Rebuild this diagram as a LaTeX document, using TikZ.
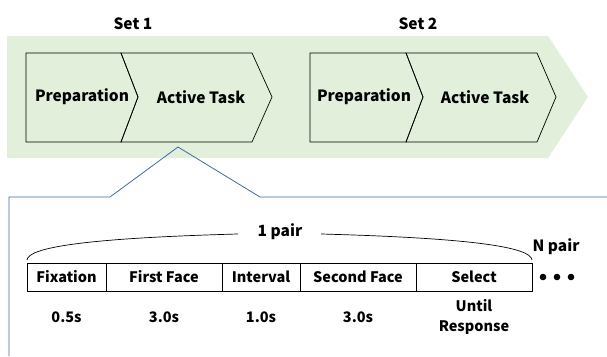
\documentclass[tikz,border=0pt]{standalone}
\usepackage{fontspec}
\setmainfont{Noto Sans CJK JP}
\definecolor{bandgreen}{HTML}{E2EFDA}
\definecolor{linkblue}{HTML}{3F67B0}
\begin{document}
\begin{tikzpicture}[x=1pt,y=-1pt,
  lbl/.style={font=\bfseries\fontsize{15.5}{17}\selectfont, inner sep=0pt},
  small/.style={font=\bfseries\fontsize{14.5}{16}\selectfont, inner sep=0pt, align=center},
  chev/.style={draw=black, line width=0.7pt, line join=miter},
  cell/.style={draw=black, line width=0.7pt},
  link/.style={draw=linkblue, line width=0.8pt}]
\useasboundingbox (0,0) rectangle (607,356);
% green band arrow
\fill[bandgreen] (7,36) -- (548,36) -- (588,97) -- (548,158) -- (7,158) -- cycle;
% Set 1
\draw[chev] (26,53) -- (121,53) -- (138,97) -- (121,142) -- (26,142) -- cycle;
\draw[chev] (121,53) -- (252,53) -- (272,97) -- (252,142) -- (121,142) -- (138,97) -- cycle;
\node[lbl] (s1) at (133,24) {Set 1};
\node[lbl] (p1) at (82,97) {Preparation};
\node[lbl] (a1) at (201,97) {Active Task};
% Set 2
\draw[chev] (310,53) -- (406,53) -- (423,97) -- (406,142) -- (310,142) -- cycle;
\draw[chev] (406,53) -- (537,53) -- (556,97) -- (537,142) -- (406,142) -- (423,97) -- cycle;
\node[lbl] (s2) at (418,24) {Set 2};
\node[lbl] (p2) at (364,97) {Preparation};
\node[lbl] (a2) at (485,97) {Active Task};
% zoom callout
\coordinate (apex) at (178,147);
\coordinate (bl) at (9,356);
\coordinate (tl) at (9,197);
\coordinate (ml) at (110,197);
\coordinate (mr) at (260,197);
\coordinate (tr) at (607,197);
\draw[link] (bl) -- (tl) -- (ml) -- (apex) -- (mr) -- (tr);
% timeline cells
\draw[cell] (27,263) rectangle (532,291);
\draw[cell] (106,263) -- (106,291);
\draw[cell] (222,263) -- (222,291);
\draw[cell] (300,263) -- (300,291);
\draw[cell] (416,263) -- (416,291);
\node[small] (c1) at (66.5,277) {Fixation};
\node[small] (c2) at (164,277) {First Face};
\node[small] (c3) at (261,277) {Interval};
\node[small] (c4) at (358,277) {Second Face};
\node[small] (c5) at (474,277) {Select};
\node[small] (t1) at (66.5,317) {0.5s};
\node[small] (t2) at (164,317) {3.0s};
\node[small] (t3) at (261,317) {1.0s};
\node[small] (t4) at (358,317) {3.0s};
\node[small] (t5) at (474,316.5) {Until\\[4pt]Response};
% brace
\node[lbl] (pair) at (280,232) {1 pair};
\coordinate (bw) at (238,234);
\coordinate (be) at (321,234);
\coordinate (bl0) at (27,260);
\coordinate (br0) at (532,260);
\draw[line width=0.7pt] (bl0) .. controls (28,247) and (90,238) .. (bw);
\draw[line width=0.7pt] (br0) .. controls (531,247) and (470,238) .. (be);
\node[lbl] (npair) at (556,247) {N pair};
\foreach \x in {543,557,571} \fill (\x,277) circle (3.3pt);
\end{tikzpicture}
\end{document}
